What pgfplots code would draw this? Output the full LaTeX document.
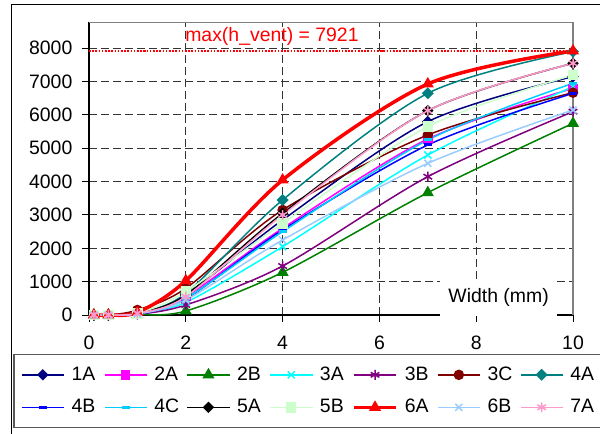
\documentclass[border=0pt]{standalone}
\usepackage{fontspec}
\setmainfont{Liberation Sans}
\usepackage{pgfplots}
\pgfplotsset{compat=1.18}
\usepackage{pgfplotstable}
\definecolor{cIA}{RGB}{0,0,128}
\definecolor{cIIA}{RGB}{255,0,255}
\definecolor{cIIB}{RGB}{0,128,0}
\definecolor{cIIIA}{RGB}{0,255,255}
\definecolor{cIIIB}{RGB}{128,0,128}
\definecolor{cIIIC}{RGB}{128,0,0}
\definecolor{cIVA}{RGB}{0,128,128}
\definecolor{cIVB}{RGB}{0,0,255}
\definecolor{cIVC}{RGB}{0,204,255}
\definecolor{cVA}{RGB}{0,0,0}
\definecolor{cVB}{RGB}{204,255,204}
\definecolor{cVIA}{RGB}{255,0,0}
\definecolor{cVIB}{RGB}{153,204,255}
\definecolor{cVIIA}{RGB}{255,153,204}
\pgfplotstableread{
x    s1A  s2A  s2B  s3A  s3B  s3C  s4A  s4B  s4C  s5A  s5B  s6A  s6B  s7A
0.1  0    0    0    0    0    0    0    0    0    0    0    0    0    0
0.4  0    0    0    0    0    0    0    0    0    0    0    0    0    0
1    40   40   10   20   20   150  50   30   30   50   50   80   30   50
2    600  550  120  380  300  800  650  480  500  600  700  1030 450  550
4    2850 2600 1280 2050 1470 3150 3450 2550 2500 3050 2750 4050 2250 3000
7    5800 5280 3670 4800 4150 5400 6650 5100 5250 6130 5650 6930 4550 6130
10   7150 6800 5750 6850 6100 6670 7900 6650 6950 7550 7200 7921 6150 7550
}\data
\begin{document}
\fontsize{19.5}{23}\selectfont
\begin{tikzpicture}
\useasboundingbox (0,0) rectangle (600bp,434bp);
\clip (0,0) rectangle (600bp,434bp);
\draw[line width=1.3bp] (11.5bp,-20bp) rectangle (620bp,429.3bp);
\begin{axis}[
  at={(89bp,119bp)}, anchor=south west,
  scale only axis, width=484bp, height=292.7bp,
  xmin=0, xmax=10, ymin=0, ymax=8780,
  clip=false,
  axis x line*=bottom, axis y line*=left,
  axis line style={-, black, line width=1.2bp},
  xtick={0,2,...,10}, ytick={0,1000,...,8000},
  tick align=outside, major tick length=7bp,
  tick style={black, line width=1bp},
  grid=major,
  major grid style={black!80, line width=1bp, dash pattern=on 8bp off 4bp},
  /pgf/number format/assume math mode=true,
  /pgf/number format/1000 sep={},
  xticklabel style={yshift=-7bp},
  yticklabel style={xshift=-3bp},
  legend columns=7,
  legend cell align=left,
  legend image code/.code={\draw[mark repeat=2,mark phase=2,#1] plot coordinates {(0bp,0bp) (21bp,0bp) (42bp,0bp)};},
  legend style={at={(-0.156,-0.1332)}, anchor=north west, draw=gray!70!black, line width=1.2bp, fill=white,
    inner xsep=7bp, inner ysep=12bp, row sep=16bp, column sep=0bp,
    /tikz/every odd column/.append style={column sep=7bp},
    nodes={inner sep=0pt}},
  every axis plot/.append style={line width=1.5bp, smooth},
]
\addplot[cIA, mark=square*, mark size=3.3pt, mark options={rotate=45, fill=cIA}] table[x=x,y=s1A]{\data};
\addlegendentry{\makebox[32.3bp][l]{1A}}
\addplot[cIIA, mark=square*, mark size=4pt, mark options={fill=cIIA}] table[x=x,y=s2A]{\data};
\addlegendentry{\makebox[32.3bp][l]{2A}}
\addplot[cIIB, mark=triangle*, mark size=5.5pt, mark options={fill=cIIB}] table[x=x,y=s2B]{\data};
\addlegendentry{\makebox[32.3bp][l]{2B}}
\addplot[cIIIA, mark=x, mark size=5pt] table[x=x,y=s3A]{\data};
\addlegendentry{\makebox[32.3bp][l]{3A}}
\addplot[cIIIB, mark=asterisk, mark size=5pt] table[x=x,y=s3B]{\data};
\addlegendentry{\makebox[32.3bp][l]{3B}}
\addplot[cIIIC, mark=*, mark size=4.5pt, mark options={fill=cIIIC}] table[x=x,y=s3C]{\data};
\addlegendentry{\makebox[32.3bp][l]{3C}}
\addplot[cIVA, mark=square*, mark size=3.5pt, mark options={rotate=45, fill=cIVA}] table[x=x,y=s4A]{\data};
\addlegendentry{\makebox[24bp][l]{4A}}
\addplot[cIVB, mark=-, mark size=4pt, mark options={line width=3bp}] table[x=x,y=s4B]{\data};
\addlegendentry{\makebox[32.3bp][l]{4B}}
\addplot[cIVC, mark=-, mark size=4pt, mark options={line width=3bp}] table[x=x,y=s4C]{\data};
\addlegendentry{\makebox[32.3bp][l]{4C}}
\addplot[cVA, mark=square*, mark size=3.3pt, mark options={rotate=45, fill=cVA}] table[x=x,y=s5A]{\data};
\addlegendentry{\makebox[32.3bp][l]{5A}}
\addplot[cVB, mark=square*, mark size=4.5pt, mark options={fill=cVB}] table[x=x,y=s5B]{\data};
\addlegendentry{\makebox[32.3bp][l]{5B}}
\addplot[cVIA, line width=3.5bp, mark=triangle*, mark size=6pt, mark options={fill=cVIA, line width=1bp}] table[x=x,y=s6A]{\data};
\addlegendentry{\makebox[32.3bp][l]{6A}}
\addplot[cVIB, mark=x, mark size=5pt] table[x=x,y=s6B]{\data};
\addlegendentry{\makebox[32.3bp][l]{6B}}
\addplot[cVIIA, mark=asterisk, mark size=5pt] table[x=x,y=s7A]{\data};
\addlegendentry{\makebox[24bp][l]{7A}}
\addplot[red, line width=1.6bp, dash pattern=on 1.6bp off 1.6bp, forget plot, no marks] coordinates {(0,7921) (10,7921)};
\node[red] at (axis cs:3.78,8366) {max(h\_vent) = 7921};
\draw[gray, line width=1.2bp] (rel axis cs:0,1) -- (rel axis cs:1,1) -- (rel axis cs:1,0);
\coordinate (wl) at (axis cs:7.25,0);
\end{axis}
\node[fill=white, inner sep=0pt, minimum width=117bp, minimum height=36bp, anchor=south west] at ([yshift=-1bp]wl) {Width (mm)};
\end{tikzpicture}
\end{document}
